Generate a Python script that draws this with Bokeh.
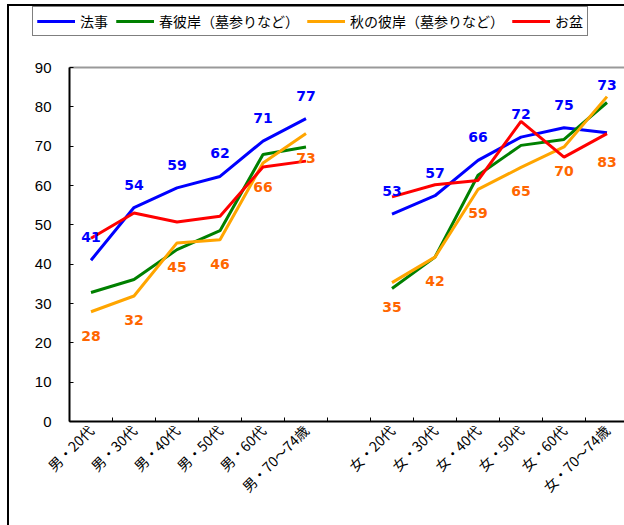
import math
from bokeh.plotting import figure
from bokeh.models import Range1d, FixedTicker, Legend, LegendItem, ColumnDataSource
from bokeh.core.properties import value
from bokeh.embed import file_html
from bokeh.resources import INLINE

# ---------------- data ----------------
male_groups = ["男・20代", "男・30代", "男・40代", "男・50代", "男・60代", "男・70～74歳"]
female_groups = ["女・20代", "女・30代", "女・40代", "女・50代", "女・60代", "女・70～74歳"]

series_names = ["法事", "春彼岸（墓参りなど）", "秋の彼岸（墓参りなど）", "お盆"]

hoji_m = [41.0, 54.4, 59.4, 62.3, 71.3, 77.0]
hoji_f = [52.7, 57.4, 66.4, 72.3, 74.7, 73.4]
haru_m = [32.8, 36.1, 43.7, 48.5, 67.9, 69.8]
haru_f = [33.8, 41.8, 62.6, 70.2, 71.7, 81.1]
aki_m = [27.9, 31.9, 45.4, 46.2, 65.7, 73.2]
aki_f = [35.3, 41.8, 59.0, 64.6, 69.8, 82.6]
bon_m = [46.6, 53.0, 50.7, 52.2, 64.7, 66.2]
bon_f = [57.1, 60.2, 61.3, 76.3, 67.2, 73.2]

y_ticks = [0, 10, 20, 30, 40, 50, 60, 70, 80, 90]

# ---------------- layout ----------------
n_m = len(male_groups)
x_m = [i + 0.5 for i in range(n_m)]
x_f = [n_m + 1 + i + 0.5 for i in range(len(female_groups))]
n_slots = n_m + 1 + len(female_groups)

W, H = 624, 525
AXIS_X, AXIS_TOP, AXIS_BOTTOM = 69, 67, 421
SLOT = 43.0
y_max = y_ticks[-1]
px_per_unit = (AXIS_BOTTOM - AXIS_TOP) / y_max
y_end = AXIS_BOTTOM / px_per_unit
y_start = -(H - AXIS_BOTTOM) / px_per_unit
x_start = -AXIS_X / SLOT
x_end = (W - AXIS_X) / SLOT

colors = ["#0000FF", "#008000", "#FFA500", "#FF0000"]
label_blue = "#0000FF"
label_orange = "#FF6600"

p = figure(width=W, height=H, output_backend="svg", toolbar_location=None,
           x_range=Range1d(x_start, x_end), y_range=Range1d(y_start, y_end),
           min_border_left=0, min_border_right=0, min_border_top=0, min_border_bottom=0)
p.border_fill_color = None
p.background_fill_color = None
p.outline_line_color = None
p.styles = {
    "background-color": "white",
    "background-image": "linear-gradient(#000,#000), linear-gradient(#000,#000)",
    "background-size": "2px 100%, 100% 2px",
    "background-position": "7px 4px, 7px 4px",
    "background-repeat": "no-repeat",
}

p.xgrid.grid_line_color = None
p.ygrid.grid_line_color = None

# top gray line of plot area
p.segment(x0=[0], x1=[n_slots], y0=[y_max], y1=[y_max], line_color="#999999", line_width=2)

# y axis
ya = p.yaxis[0]
ya.fixed_location = 0
ya.bounds = (0, y_max)
ya.ticker = FixedTicker(ticks=y_ticks)
ya.axis_line_color = "black"
ya.axis_line_width = 2
ya.major_tick_in = 4
ya.major_tick_out = 0
ya.minor_tick_in = 0
ya.minor_tick_out = 0
ya.major_tick_line_color = "black"
ya.major_label_text_font = "Liberation Sans"
ya.major_label_text_font_size = "15px"
ya.major_label_text_color = "black"
ya.major_label_standoff = 18

# x axis
xa = p.xaxis[0]
xa.fixed_location = 0
xa.bounds = (0, x_end)
overrides = {}
for x, g in zip(x_m, male_groups):
    overrides[x] = g
for x, g in zip(x_f, female_groups):
    overrides[x] = g
xa.ticker = FixedTicker(ticks=x_m + x_f, minor_ticks=list(range(0, n_slots + 1)))
xa.major_label_overrides = overrides
xa.axis_line_color = "black"
xa.axis_line_width = 2
xa.major_tick_in = 0
xa.major_tick_out = 0
xa.minor_tick_in = 4
xa.minor_tick_out = 0
xa.minor_tick_line_color = "black"
xa.major_label_orientation = math.pi / 4
xa.major_label_text_font = "Noto Sans CJK JP"
xa.major_label_text_font_size = "14px"
xa.major_label_text_color = "black"
xa.major_label_standoff = 6

# lines
series = [(hoji_m, hoji_f), (haru_m, haru_f), (aki_m, aki_f), (bon_m, bon_f)]
renderers = []
for (vm, vf), c in zip(series, colors):
    r1 = p.line(x_m, vm, line_color=c, line_width=3)
    r2 = p.line(x_f, vf, line_color=c, line_width=3)
    renderers.append([r1, r2])

# data labels (blue above 法事, orange below 秋の彼岸)
hoji_all = hoji_m + hoji_f
aki_all = aki_m + aki_f
x_all = x_m + x_f
blue_dy = [-23] * 11 + [-48]
orange_dy = [24] * 11 + [65]
src_b = ColumnDataSource(dict(x=x_all, y=hoji_all, t=[str(round(v)) for v in hoji_all], dy=blue_dy))
src_o = ColumnDataSource(dict(x=x_all, y=aki_all, t=[str(round(v)) for v in aki_all], dy=orange_dy))
for src, col in ((src_b, label_blue), (src_o, label_orange)):
    p.text(x="x", y="y", text="t", y_offset="dy", source=src,
           text_color=col, text_font=value("DejaVu Sans"), text_font_style="bold",
           text_font_size="14px", text_align="center", text_baseline="middle")

# legend
items = [LegendItem(label=n, renderers=rs) for n, rs in zip(series_names, renderers)]
legend = Legend(items=items, orientation="horizontal", location=(32, H - 36))
legend.label_text_font = "Noto Sans CJK JP"
legend.label_text_font_size = "14px"
legend.label_text_color = "black"
legend.glyph_width = 38
legend.glyph_height = 18
legend.label_height = 18
legend.label_standoff = 5
legend.spacing = 8
legend.padding = 4
legend.margin = 0
legend.border_line_color = "black"
legend.border_line_width = 1.5
legend.background_fill_color = "white"
legend.background_fill_alpha = 1
p.add_layout(legend, "center")

open("out.html", "w").write(file_html(p, INLINE))
